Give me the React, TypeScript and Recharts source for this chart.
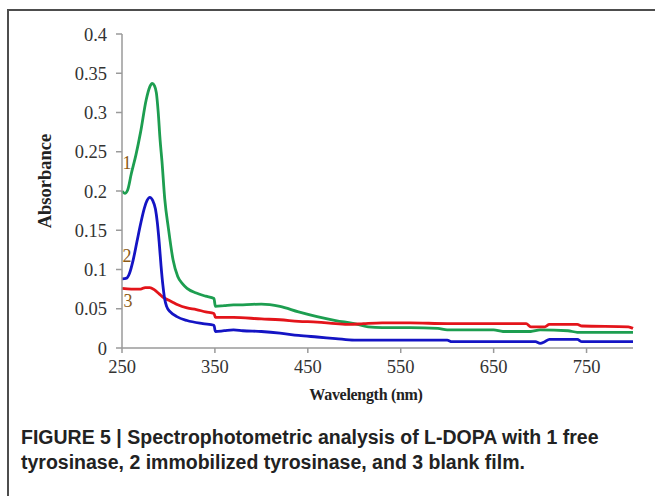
import { Label, Line, LineChart, ReferenceDot, XAxis, YAxis } from 'recharts'

// 1 free tyrosinase
const freeWavelength = [
  250, 253, 256, 260, 265, 270, 276, 280, 282.5, 285, 287, 289, 291, 293, 296, 300, 305, 310, 315, 320, 330, 340, 349,
  350.5, 360, 370, 380, 400, 420, 440, 460, 480, 500, 515, 530, 560, 590, 600, 650, 660, 690, 700, 730, 740, 800,
]
const freeAbs = [
  0.2, 0.197, 0.201, 0.222, 0.246, 0.275, 0.316, 0.333, 0.337, 0.334, 0.325, 0.3, 0.265, 0.238, 0.19, 0.152, 0.112,
  0.091, 0.082, 0.076, 0.07, 0.066, 0.063, 0.053, 0.054, 0.055, 0.055, 0.056, 0.053, 0.046, 0.04, 0.035, 0.031, 0.027,
  0.026, 0.026, 0.025, 0.023, 0.023, 0.021, 0.021, 0.023, 0.022, 0.02, 0.02,
]

// 2 immobilized tyrosinase
const immobWavelength = [
  250, 255, 258, 262, 266, 270, 274, 277, 280, 283, 286, 288, 290, 292, 294, 296, 298, 302, 309, 320, 337, 349, 350.5,
  360, 370, 380, 400, 420, 440, 460, 480, 500, 540, 600, 605, 650, 695, 700, 705, 710, 740, 745, 800,
]
const immobAbs = [
  0.088, 0.089, 0.095, 0.112, 0.135, 0.158, 0.178, 0.188, 0.192, 0.188, 0.177, 0.16, 0.135, 0.105, 0.08, 0.062, 0.053,
  0.046, 0.04, 0.035, 0.031, 0.029, 0.021, 0.022, 0.023, 0.022, 0.021, 0.019, 0.016, 0.014, 0.012, 0.01, 0.01, 0.01,
  0.008, 0.008, 0.008, 0.006, 0.008, 0.011, 0.011, 0.008, 0.008,
]

// 3 blank film
const blankWavelength = [
  250, 260, 270, 275, 280, 285, 290, 295, 300, 305, 310, 320, 330, 340, 349, 350.5, 370, 400, 420, 440, 460, 480, 495,
  510, 530, 560, 600, 650, 685, 690, 705, 710, 740, 745, 795, 800,
]
const blankAbs = [
  0.076, 0.075, 0.075, 0.077, 0.077, 0.074, 0.069, 0.064, 0.061, 0.058, 0.055, 0.051, 0.049, 0.046, 0.044, 0.039,
  0.039, 0.037, 0.036, 0.034, 0.033, 0.031, 0.03, 0.031, 0.032, 0.032, 0.031, 0.031, 0.031, 0.027, 0.027, 0.03, 0.03,
  0.028, 0.027, 0.025,
]

const xTicks = [250, 350, 450, 550, 650, 750]
const yTicks = [0, 0.05, 0.1, 0.15, 0.2, 0.25, 0.3, 0.35, 0.4]

// curve number tags: [text, wavelength, absorbance]
const curveTags: [string, number, number][] = [
  ['1', 255.5, 0.236],
  ['2', 255.5, 0.118],
  ['3', 256.5, 0.061],
]

const toPoints = (ws: number[], as: number[]) => ws.map((w, i) => ({ w, a: as[i] }))

const series = [
  { key: 'free', points: toPoints(freeWavelength, freeAbs), color: '#1d9e50' },
  { key: 'blank', points: toPoints(blankWavelength, blankAbs), color: '#e3141a' },
  { key: 'immob', points: toPoints(immobWavelength, immobAbs), color: '#1414c4' },
]

const SERIF = '"Liberation Serif", "Times New Roman", serif'
const tickStyle = { fontSize: 18.5, fill: '#333', fontFamily: SERIF }
const axisStroke = { stroke: '#9a9a9a', strokeWidth: 1.5 }

const App = () => {
  return (
    <div style={{ position: 'absolute', left: 0, top: 0, width: 655, height: 496, background: '#fff', overflow: 'hidden' }}>
      <div
        style={{
          position: 'absolute',
          left: 7,
          top: 9,
          width: 660,
          height: 500,
          borderTop: '2px solid #4d4d4d',
          borderLeft: '2px solid #4d4d4d',
        }}
      />
      <div style={{ position: 'absolute', left: 0, top: 0 }}>
        <LineChart width={655} height={412} margin={{ top: 34, right: 22, left: 0, bottom: 0 }}>
          <XAxis
            dataKey="w"
            type="number"
            domain={[250, 800]}
            ticks={xTicks}
            interval={0}
            height={64}
            tick={tickStyle}
            tickSize={5}
            tickMargin={7}
            axisLine={axisStroke}
            tickLine={axisStroke}
          >
            <Label
              content={({ viewBox }: any) => (
                <text
                  x={366}
                  y={viewBox.y + 52}
                  textAnchor="middle"
                  fontFamily={SERIF}
                  fontWeight="bold"
                  fontSize={16}
                  letterSpacing={-0.3}
                  fill="#222"
                >
                  Wavelength (nm)
                </text>
              )}
            />
          </XAxis>
          <YAxis
            type="number"
            domain={[0, 0.4]}
            ticks={yTicks}
            interval={0}
            width={122}
            tick={tickStyle}
            tickSize={6}
            tickMargin={9}
            axisLine={axisStroke}
            tickLine={axisStroke}
          >
            <Label
              content={() => (
                <text
                  x={45}
                  y={181}
                  transform="rotate(-90 45 181)"
                  textAnchor="middle"
                  dominantBaseline="central"
                  fontFamily={SERIF}
                  fontWeight="bold"
                  fontSize={18.5}
                  fill="#222"
                >
                  Absorbance
                </text>
              )}
            />
          </YAxis>
          {series.map((s) => (
            <Line
              key={s.key}
              data={s.points}
              dataKey="a"
              type="monotone"
              stroke={s.color}
              strokeWidth={2.8}
              dot={false}
              isAnimationActive={false}
            />
          ))}
          {curveTags.map(([t, x, y]) => (
            <ReferenceDot
              key={t}
              x={x}
              y={y}
              r={0}
              fill="none"
              stroke="none"
              label={{ value: t, position: 'center', fill: '#8c5a14', fontSize: 18, fontFamily: SERIF }}
            />
          ))}
        </LineChart>
      </div>
      <div
        style={{
          position: 'absolute',
          left: 21,
          top: 425,
          width: 630,
          fontFamily: '"Liberation Sans", Arial, sans-serif',
          fontWeight: 'bold',
          fontSize: 19.5,
          lineHeight: '25px',
          color: '#222',
          whiteSpace: 'nowrap',
        }}
      >
        FIGURE 5 | Spectrophotometric analysis of L-DOPA with 1 free
        <br />
        tyrosinase, 2 immobilized tyrosinase, and 3 blank film.
      </div>
    </div>
  )
}

export default App
